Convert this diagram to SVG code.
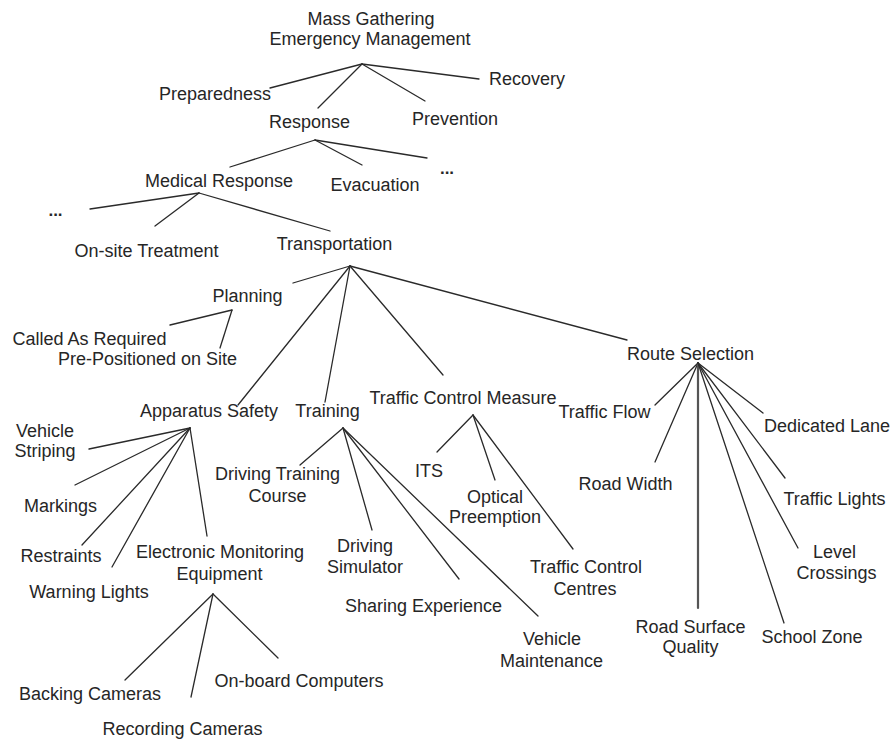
<svg xmlns="http://www.w3.org/2000/svg" width="891" height="740" viewBox="0 0 891 740">
<style>
text{font-family:"Liberation Sans",Arial,sans-serif;font-size:18px;fill:#262626;text-anchor:middle}
text.dots{font-weight:bold;font-size:17px}
.c line{stroke:#2a2a2a;stroke-width:1.3;stroke-linecap:round}
.c line.thick{stroke:#555;stroke-width:2.2}
</style>
<rect width="891" height="740" fill="#fff"/>
<g id="connectors" class="c">
<line x1="362" y1="64" x2="270" y2="88"/>
<line x1="362" y1="64" x2="318" y2="108"/>
<line x1="362" y1="64" x2="425" y2="101"/>
<line x1="362" y1="64" x2="479" y2="79"/>
<line x1="315" y1="140" x2="230" y2="167"/>
<line x1="315" y1="140" x2="362" y2="165"/>
<line x1="315" y1="140" x2="427" y2="158"/>
<line x1="199" y1="193" x2="90" y2="209"/>
<line x1="199" y1="193" x2="155" y2="226"/>
<line x1="199" y1="193" x2="330" y2="231"/>
<line x1="350" y1="266" x2="293" y2="283"/>
<line x1="350" y1="266" x2="238" y2="405"/>
<line x1="350" y1="266" x2="325" y2="402"/>
<line x1="350" y1="266" x2="443" y2="375"/>
<line x1="350" y1="266" x2="627" y2="340"/>
<line x1="232" y1="310" x2="170" y2="325"/>
<line x1="232" y1="310" x2="220" y2="348"/>
<line x1="190" y1="428" x2="89" y2="449"/>
<line x1="190" y1="428" x2="75" y2="485"/>
<line x1="190" y1="428" x2="82" y2="545"/>
<line x1="190" y1="428" x2="112" y2="567"/>
<line x1="190" y1="428" x2="207" y2="536"/>
<line x1="213" y1="594" x2="125" y2="680"/>
<line x1="213" y1="594" x2="191" y2="697"/>
<line x1="213" y1="594" x2="278" y2="658"/>
<line x1="343" y1="428" x2="300" y2="465"/>
<line x1="343" y1="428" x2="372" y2="530"/>
<line x1="343" y1="428" x2="459" y2="579"/>
<line x1="343" y1="428" x2="538" y2="616"/>
<line x1="473" y1="415" x2="437" y2="452"/>
<line x1="473" y1="415" x2="495" y2="480"/>
<line x1="473" y1="415" x2="573" y2="549"/>
<line x1="698" y1="363" x2="655" y2="405"/>
<line x1="698" y1="363" x2="655" y2="462"/>
<line class="thick" x1="698" y1="363" x2="698" y2="608"/>
<line x1="698" y1="363" x2="784" y2="623"/>
<line x1="698" y1="363" x2="798" y2="548"/>
<line x1="698" y1="363" x2="785" y2="478"/>
<line x1="698" y1="363" x2="763" y2="413"/>
</g>
<g id="root"><text x="371" y="25">Mass Gathering</text><text x="370" y="45">Emergency Management</text></g>
<g id="preparedness"><text x="215" y="100">Preparedness</text></g>
<g id="recovery"><text x="527" y="85">Recovery</text></g>
<g id="response"><text x="309.5" y="128">Response</text></g>
<g id="prevention"><text x="455" y="125">Prevention</text></g>
<g id="medical-response"><text x="219" y="187">Medical Response</text></g>
<g id="evacuation"><text x="375" y="191">Evacuation</text></g>
<g id="more-response"><text class="dots" x="447" y="174">...</text></g>
<g id="more-medical"><text class="dots" x="55.5" y="216">...</text></g>
<g id="onsite-treatment"><text x="146.5" y="257">On-site Treatment</text></g>
<g id="transportation"><text x="334.5" y="250">Transportation</text></g>
<g id="planning"><text x="247.5" y="302">Planning</text></g>
<g id="called-as-required"><text x="89.5" y="345">Called As Required</text></g>
<g id="pre-positioned"><text x="147.5" y="365">Pre-Positioned on Site</text></g>
<g id="apparatus-safety"><text x="209" y="417">Apparatus Safety</text></g>
<g id="training"><text x="327.5" y="417">Training</text></g>
<g id="traffic-control-measure"><text x="463" y="404">Traffic Control Measure</text></g>
<g id="route-selection"><text x="690.5" y="360">Route Selection</text></g>
<g id="vehicle-striping"><text x="45" y="437">Vehicle</text><text x="45" y="457">Striping</text></g>
<g id="markings"><text x="60.5" y="512">Markings</text></g>
<g id="restraints"><text x="61" y="562">Restraints</text></g>
<g id="warning-lights"><text x="89" y="598">Warning Lights</text></g>
<g id="electronic-monitoring"><text x="220" y="558">Electronic Monitoring</text><text x="219.5" y="580">Equipment</text></g>
<g id="backing-cameras"><text x="90" y="700">Backing Cameras</text></g>
<g id="recording-cameras"><text x="182.5" y="735">Recording Cameras</text></g>
<g id="onboard-computers"><text x="299" y="687">On-board Computers</text></g>
<g id="driving-training-course"><text x="277.5" y="480">Driving Training</text><text x="277.5" y="502">Course</text></g>
<g id="driving-simulator"><text x="365" y="552">Driving</text><text x="365" y="573">Simulator</text></g>
<g id="sharing-experience"><text x="423.5" y="612">Sharing Experience</text></g>
<g id="vehicle-maintenance"><text x="552" y="645">Vehicle</text><text x="551.5" y="667">Maintenance</text></g>
<g id="its"><text x="429" y="477">ITS</text></g>
<g id="optical-preemption"><text x="495" y="503">Optical</text><text x="495" y="523">Preemption</text></g>
<g id="traffic-control-centres"><text x="586" y="573">Traffic Control</text><text x="585" y="595">Centres</text></g>
<g id="traffic-flow"><text x="604.5" y="418">Traffic Flow</text></g>
<g id="dedicated-lane"><text x="827" y="432">Dedicated Lane</text></g>
<g id="road-width"><text x="625.5" y="490">Road Width</text></g>
<g id="traffic-lights"><text x="834.5" y="505">Traffic Lights</text></g>
<g id="level-crossings"><text x="834.5" y="558">Level</text><text x="836.5" y="579">Crossings</text></g>
<g id="road-surface-quality"><text x="690.5" y="633">Road Surface</text><text x="690.5" y="653">Quality</text></g>
<g id="school-zone"><text x="812" y="643">School Zone</text></g>
</svg>
